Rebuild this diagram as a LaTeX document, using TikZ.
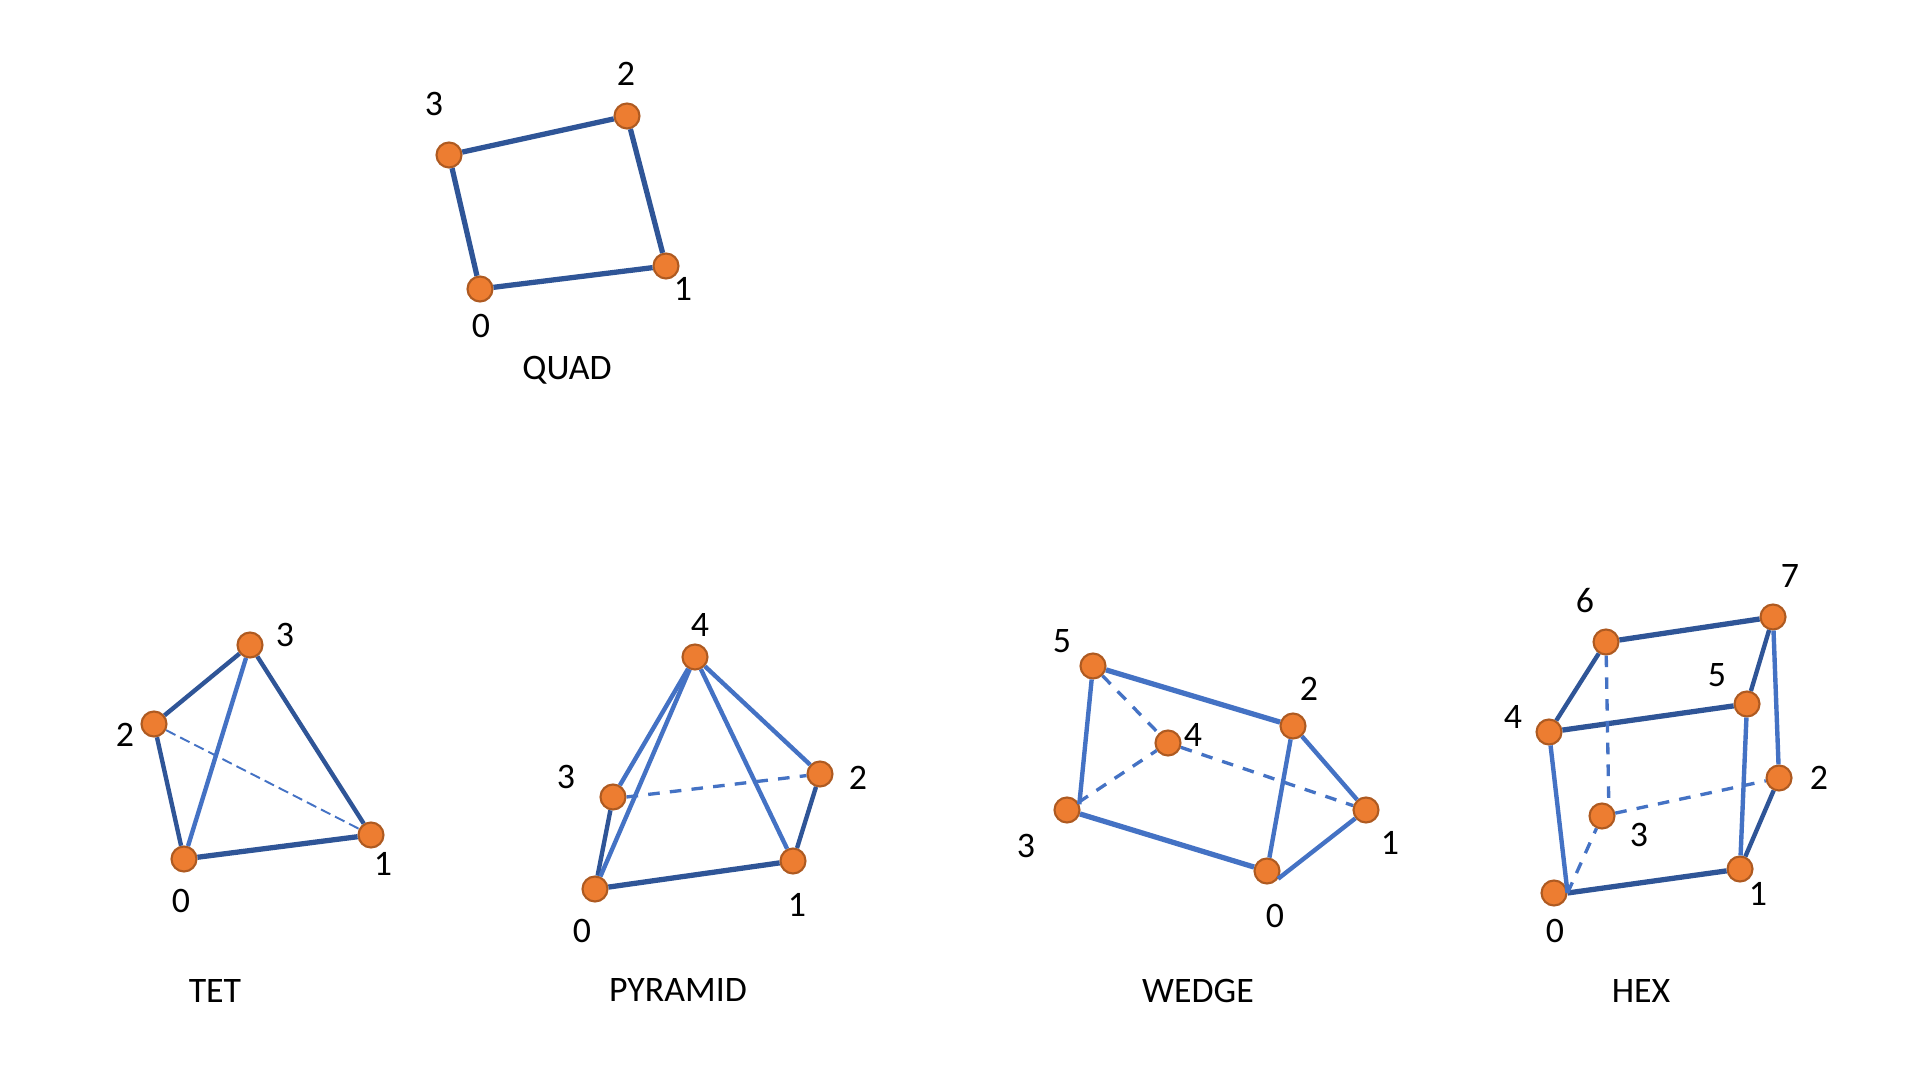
\documentclass[tikz,border=0pt]{standalone}
\usepackage{fontspec}
\setmainfont{Carlito}
\usepackage{tikz}
\usetikzlibrary{positioning}
\definecolor{vertfill}{HTML}{ED7D31}
\definecolor{vertrim}{HTML}{AE5A21}
\definecolor{edgedark}{HTML}{2F5597}
\definecolor{edgelight}{HTML}{4472C4}
\tikzset{vert/.style={circle,fill=vertfill,draw=vertrim,line width=0.6pt,minimum size=0.25cm,inner sep=0pt}}
\tikzset{num/.style={font=\fontsize{10.2pt}{12pt}\selectfont,text=black,inner sep=0pt}}
\tikzset{front/.style={draw=edgedark,line width=1.5pt}}
\tikzset{edge/.style={draw=edgedark,line width=1.25pt}}
\tikzset{lite/.style={draw=edgelight,line width=1.25pt}}
\tikzset{litefront/.style={draw=edgelight,line width=1.5pt}}
\tikzset{hidden/.style={draw=edgelight,line width=0.95pt,dash pattern=on 3.3pt off 2.9pt}}
\tikzset{hiddenthin/.style={draw=edgelight,line width=0.55pt,dash pattern=on 3pt off 1.5pt}}
\begin{document}
\begin{tikzpicture}
\useasboundingbox (0,0) rectangle (19.2,10.8);

\node[vert] (q0) at (4.80,7.91) {};
\node[vert] (q1) at (6.66,8.14) {};
\node[vert] (q2) at (6.27,9.64) {};
\node[vert] (q3) at (4.49,9.25) {};
 \draw[front] (q0) -- (q1);
 \draw[front] (q1) -- (q2);
 \draw[front] (q2) -- (q3);
 \draw[front] (q3) -- (q0);
\node[num] (q0n) at (4.81,7.54) {0};
\node[num] (q1n) at (6.83,7.91) {1};
\node[num] (q2n) at (6.26,10.06) {2};
\node[num] (q3n) at (4.34,9.76) {3};
\node[num] (quad) at (5.67,7.10) {QUAD};

\node[vert] (t0) at (1.84,2.21) {};
\node[vert] (t1) at (3.71,2.45) {};
\node[vert] (t2) at (1.54,3.56) {};
\node[vert] (t3) at (2.50,4.35) {};
 \draw[front] (t0) -- (t1);
 \draw[edge] (t1) -- (t3);
 \draw[edge] (t3) -- (t2);
 \draw[edge] (t2) -- (t0);
 \draw[lite] (t0) -- (t3);
 \draw[hiddenthin] (t2) -- (t1);
\node[num] (t0n) at (1.81,1.79) {0};
\node[num] (t1n) at (3.83,2.16) {1};
\node[num] (t2n) at (1.25,3.45) {2};
\node[num] (t3n) at (2.85,4.45) {3};
\node[num] (tet) at (2.15,0.89) {TET};

\node[vert] (p0) at (5.95,1.91) {};
\node[vert] (p1) at (7.93,2.19) {};
\node[vert] (p2) at (8.20,3.06) {};
\node[vert] (p3) at (6.13,2.83) {};
\node[vert] (p4) at (6.95,4.23) {};
 \draw[front] (p0) -- (p1);
 \draw[edge] (p1) -- (p2);
 \draw[edge] (p3) -- (p0);
 \draw[lite] (p3) -- (p4);
 \draw[lite] (p0) -- (p4);
 \draw[lite] (p1) -- (p4);
 \draw[lite] (p2) -- (p4);
 \draw[hidden] (p3.east) -- (p2);
\node[num] (p0n) at (5.82,1.49) {0};
\node[num] (p1n) at (7.97,1.75) {1};
\node[num] (p2n) at (8.58,3.02) {2};
\node[num] (p3n) at (5.66,3.03) {3};
\node[num] (p4n) at (7.00,4.55) {4};
\node[num] (pyramid) at (6.78,0.90) {PYRAMID};

\node[vert] (w0) at (12.67,2.09) {};
\node[vert] (w1) at (13.66,2.70) {};
\node[vert] (w2) at (12.93,3.54) {};
\node[vert] (w3) at (10.67,2.70) {};
\node[vert] (w4) at (11.68,3.37) {};
\node[vert] (w5) at (10.93,4.14) {};
 \draw[litefront] (w5) -- (w2);
 \draw[litefront] (w3) -- (w0);
 \draw[lite] (w5) -- (w3.25);
 \draw[lite] (w2) -- (w0);
 \draw[lite] (w2) -- (w1);
 \draw[lite] (w0.-35) -- (w1);
 \draw[hidden] (w5) -- (w4);
 \draw[hidden] (w3) -- (w4);
 \draw[hidden] (w4) -- (w1);
\node[num] (w0n) at (12.75,1.64) {0};
\node[num] (w1n) at (13.90,2.37) {1};
\node[num] (w2n) at (13.09,3.91) {2};
\node[num] (w3n) at (10.26,2.34) {3};
\node[num] (w4n) at (11.93,3.45) {4};
\node[num] (w5n) at (10.62,4.39) {5};
\node[num] (wedge) at (11.98,0.89) {WEDGE};

\node[vert] (h0) at (15.54,1.87) {};
\node[vert] (h1) at (17.40,2.11) {};
\node[vert] (h2) at (17.79,3.02) {};
\node[vert] (h3) at (16.02,2.64) {};
\node[vert] (h4) at (15.49,3.48) {};
\node[vert] (h5) at (17.47,3.76) {};
\node[vert] (h6) at (16.06,4.38) {};
\node[vert] (h7) at (17.73,4.63) {};
 \draw[front] (h6) -- (h7);
 \draw[front] (h4) -- (h5);
 \draw[front] (h0.east) -- (h1);
 \draw[edge] (h4) -- (h6);
 \draw[edge] (h5) -- (h7);
 \draw[edge] (h1) -- (h2);
 \draw[lite] (h7) -- (h2);
 \draw[lite] (h5) -- (h1);
 \draw[lite] (h4) -- (h0.east);
 \draw[hidden] (h6) -- (h3.60);
 \draw[hidden] (h3) -- (h2);
 \draw[hidden] (h0.east) -- (h3);
\node[num] (h0n) at (15.55,1.49) {0};
\node[num] (h1n) at (17.58,1.86) {1};
\node[num] (h2n) at (18.19,3.02) {2};
\node[num] (h3n) at (16.39,2.45) {3};
\node[num] (h4n) at (15.13,3.63) {4};
\node[num] (h5n) at (17.17,4.05) {5};
\node[num] (h6n) at (15.85,4.79) {6};
\node[num] (h7n) at (17.90,5.04) {7};
\node[num] (hex) at (16.41,0.89) {HEX};
\end{tikzpicture}
\end{document}
